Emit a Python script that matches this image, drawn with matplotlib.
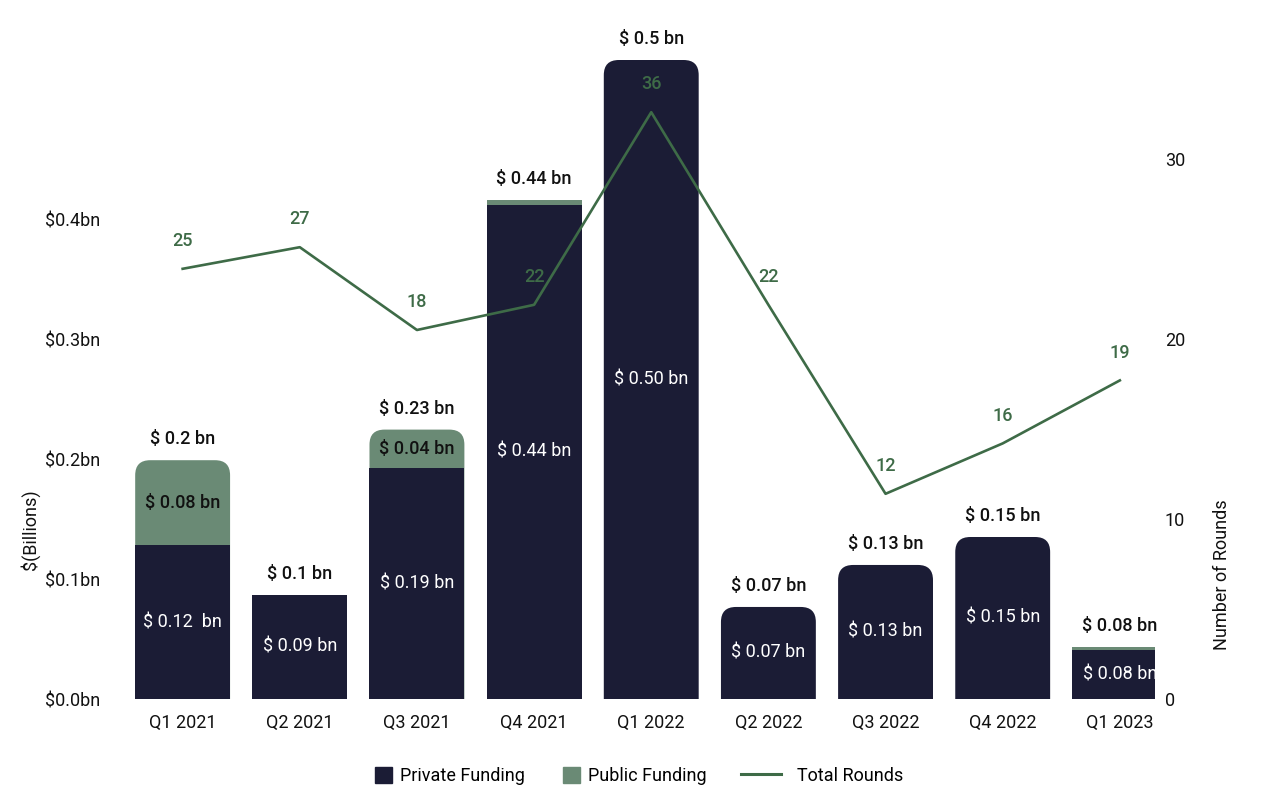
import numpy as np
import matplotlib.pyplot as plt
from matplotlib.patches import FancyBboxPatch, Patch
from matplotlib.lines import Line2D

plt.rcParams['font.family'] = ['Roboto', 'DejaVu Sans']

quarters = ['Q1 2021', 'Q2 2021', 'Q3 2021', 'Q4 2021', 'Q1 2022',
            'Q2 2022', 'Q3 2022', 'Q4 2022', 'Q1 2023']
private = [0.128, 0.087, 0.1925, 0.412, 0.5325, 0.0767, 0.1117, 0.135, 0.041]
public = [0.071, 0.0, 0.032, 0.004, 0.0, 0.0, 0.0, 0.0, 0.0025]
total_labels = ['$ 0.2 bn', '$ 0.1 bn', '$ 0.23 bn', '$ 0.44 bn', '$ 0.5 bn',
                '$ 0.07 bn', '$ 0.13 bn', '$ 0.15 bn', '$ 0.08 bn']
private_labels = ['$ 0.12  bn', '$ 0.09 bn', '$ 0.19 bn', '$ 0.44 bn', '$ 0.50 bn',
                  '$ 0.07 bn', '$ 0.13 bn', '$ 0.15 bn', '$ 0.08 bn']
public_labels = ['$ 0.08 bn', '', '$ 0.04 bn', '', '', '', '', '', '']
rounds = [23.9, 25.1, 20.5, 21.9, 32.6, 21.9, 11.4, 14.2, 17.7]
rounds_labels = ['25', '27', '18', '22', '36', '22', '12', '16', '19']

# which bars get rounded tops
rounded = [True, False, True, False, True, True, True, True, False]

NAVY = '#1b1c35'
SAGE = '#6a8a75'
LINE = '#3e6b47'
TXT = '#111111'
FS = 13

fig = plt.figure(figsize=(12.7, 7.99), dpi=100)
ax = fig.add_axes([110 / 1270, 1 - 699 / 799, 1045 / 1270, 659 / 799])
ax2 = ax.twinx()

x = np.arange(len(quarters))
w = 0.81
ax.set_xlim(-0.62, 8.3)
ax.set_ylim(0, 659 / 1200)
ax2.set_ylim(0, 659 / 18)

# pixel scale for rounded corners
p0 = ax.transData.transform((0, 0))
p1 = ax.transData.transform((1, 1))
xpx = p1[0] - p0[0]
ypx = p1[1] - p0[1]
r_px = 15
aspect = xpx / ypx

totals = [a + b for a, b in zip(private, public)]
for i in range(len(quarters)):
    x0 = x[i] - w / 2
    if rounded[i]:
        top_color = SAGE if public[i] > 0 else NAVY
        patch = FancyBboxPatch((x0, -0.05), w, totals[i] + 0.05,
                               boxstyle=f"round,pad=0,rounding_size={r_px / xpx}",
                               mutation_aspect=aspect, fc=top_color, ec='none')
        ax.add_patch(patch)
        if public[i] > 0:
            ax.bar(x[i], private[i], w, color=NAVY)
    else:
        ax.bar(x[i], private[i], w, color=NAVY)
        if public[i] > 0:
            ax.bar(x[i], public[i], w, bottom=private[i], color=SAGE)

    ax.annotate(total_labels[i], (x[i], totals[i]), xytext=(0, 15),
                textcoords='offset points', ha='center', va='center',
                fontsize=FS, fontweight='medium', color=TXT)
    ax.text(x[i], private[i] / 2, private_labels[i], ha='center', va='center',
            fontsize=FS, color='white')
    if public_labels[i]:
        ax.text(x[i], private[i] + public[i] / 2, public_labels[i], ha='center',
                va='center', fontsize=FS, fontweight='medium', color=TXT)

ax2.plot(x, rounds, color=LINE, lw=1.9)
for i in range(len(quarters)):
    ax2.annotate(rounds_labels[i], (x[i], rounds[i]), xytext=(0, 20),
                 textcoords='offset points', ha='center', va='center',
                 fontsize=FS, fontweight='medium', color=LINE)

ax.set_xticks(x)
ax.set_xticklabels(quarters)
ax.set_yticks([0, 0.1, 0.2, 0.3, 0.4])
ax.set_yticklabels(['$0.0bn', '$0.1bn', '$0.2bn', '$0.3bn', '$0.4bn'])
ax2.set_yticks([0, 10, 20, 30])
ax.tick_params(axis='x', length=0, pad=11, labelsize=FS, labelcolor=TXT)
ax.tick_params(axis='y', length=0, pad=7, labelsize=FS, labelcolor=TXT)
ax2.tick_params(axis='y', length=0, pad=7, labelsize=FS, labelcolor=TXT)
for a in (ax, ax2):
    for s in a.spines.values():
        s.set_visible(False)

fig.text(30 / 1270, 1 - 530 / 799, '$(Billions)', rotation=90, ha='center',
         va='center', fontsize=FS, color=TXT)
fig.text(1222 / 1270, 1 - 575 / 799, 'Number of Rounds', rotation=90, ha='center',
         va='center', fontsize=FS, color=TXT)

# legend entries placed one by one
ly = 1 - 776 / 799
entries = [
    (Patch(color=NAVY, label='Private Funding'), 375, 0.94, 0.45),
    (Patch(color=SAGE, label='Public Funding'), 563, 0.94, 0.45),
    (Line2D([0], [0], color=LINE, lw=2.2, label='Total Rounds'), 741, 2.2, 0.9),
]
for h, lx, hl, tp in entries:
    fig.legend(handles=[h], loc='center left', bbox_to_anchor=(lx / 1270, ly),
               frameon=False, fontsize=FS, handlelength=hl, handleheight=0.94,
               handletextpad=tp, borderpad=0, borderaxespad=0)

fig.savefig('out.png', dpi=100)
